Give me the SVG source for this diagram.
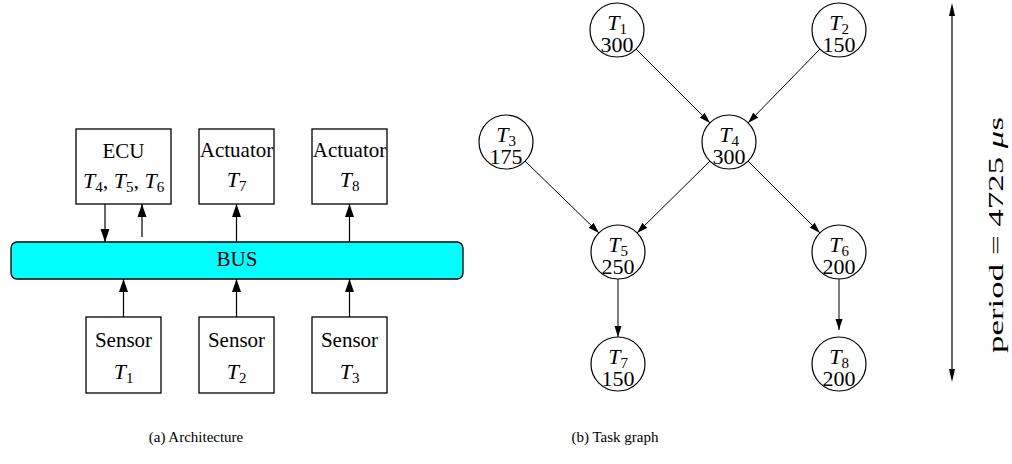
<svg xmlns="http://www.w3.org/2000/svg" width="1012" height="464" viewBox="0 0 1012 464">
<style>
.box{fill:#fff;stroke:#000;stroke-width:1.3}
.bus{fill:#00ffff;stroke:#000;stroke-width:1.3}
.node{fill:#fff;stroke:#000;stroke-width:1.2}
.t{font-family:"Liberation Serif","Times New Roman",serif;font-size:21px;fill:#000;text-anchor:middle}
.m{font-family:"Liberation Serif","Times New Roman",serif;font-size:22px;fill:#000;text-anchor:middle}
.i{font-style:italic}
.cap{font-family:"Liberation Serif","Times New Roman",serif;font-size:15px;fill:#000;text-anchor:middle}
.e{stroke:#000;stroke-width:1.2;fill:none}
.ea{stroke:#000;stroke-width:1.2;fill:none;marker-end:url(#ab)}
.ga{stroke:#000;stroke-width:1;fill:none;marker-end:url(#ag)}
</style>
<defs>
<marker id="ab" markerUnits="userSpaceOnUse" markerWidth="14" markerHeight="10" refX="13" refY="5" orient="auto">
<path d="M0,0.5 L13,5 L0,9.5 z" fill="#000"/>
</marker>
<marker id="ag" markerUnits="userSpaceOnUse" markerWidth="12" markerHeight="8" refX="11" refY="4" orient="auto">
<path d="M0,0.5 L11,4 L0,7.5 z" fill="#000"/>
</marker>
</defs>

<g id="connectors">
<line class="ea" x1="105" y1="204" x2="105" y2="242"/>
<line class="ea" x1="142" y1="237" x2="142" y2="204"/>
<line class="ea" x1="236.5" y1="242" x2="236.5" y2="204"/>
<line class="ea" x1="349.5" y1="242" x2="349.5" y2="204"/>
<line class="ea" x1="123.5" y1="317" x2="123.5" y2="279"/>
<line class="ea" x1="236.5" y1="317" x2="236.5" y2="279"/>
<line class="ea" x1="349.5" y1="317" x2="349.5" y2="279"/>
<line class="ga" x1="636" y1="49" x2="710" y2="123"/>
<line class="ga" x1="820" y1="49" x2="748" y2="123"/>
<line class="ga" x1="525" y1="161" x2="599" y2="233"/>
<line class="ga" x1="710" y1="161" x2="637" y2="233"/>
<line class="ga" x1="748" y1="161" x2="820" y2="233"/>
<line class="ga" x1="618" y1="279" x2="618" y2="337"/>
<line class="ga" x1="839" y1="279" x2="839" y2="330"/>
<line class="e" x1="952" y1="12" x2="952" y2="374"/>
</g>
<g id="period-arrow">
<path d="M952,3 L955,16 L949,16 z" fill="#000"/>
<path d="M952,382 L955,369 L949,369 z" fill="#000"/>
<text class="m" transform="translate(1003,235) rotate(-90)" textLength="236" lengthAdjust="spacingAndGlyphs" font-size="26">period = 4725 <tspan class="i">μ</tspan>s</text>
</g>

<g id="ecu">
<rect class="box" x="76" y="129" width="95" height="75"/>
<text class="t" x="123.5" y="158">ECU</text>
<text class="m" x="123.5" y="188"><tspan class="i">T</tspan><tspan font-size="15" dy="4">4</tspan><tspan dy="-4">, </tspan><tspan class="i">T</tspan><tspan font-size="15" dy="4">5</tspan><tspan dy="-4">, </tspan><tspan class="i">T</tspan><tspan font-size="15" dy="4">6</tspan></text>
</g>
<g id="actuator7">
<rect class="box" x="199" y="129" width="75" height="75"/>
<text class="t" x="236.5" y="157">Actuator</text>
<text class="m" x="236.5" y="187"><tspan class="i">T</tspan><tspan font-size="15" dy="4">7</tspan></text>
</g>
<g id="actuator8">
<rect class="box" x="312" y="129" width="75" height="75"/>
<text class="t" x="349.5" y="157">Actuator</text>
<text class="m" x="349.5" y="187"><tspan class="i">T</tspan><tspan font-size="15" dy="4">8</tspan></text>
</g>
<g id="bus">
<rect class="bus" x="11" y="242" width="452" height="37" rx="6"/>
<text class="t" x="237" y="266">BUS</text>
</g>
<g id="sensor1">
<rect class="box" x="86" y="317" width="75" height="76"/>
<text class="t" x="123.5" y="347">Sensor</text>
<text class="m" x="123.5" y="379"><tspan class="i">T</tspan><tspan font-size="15" dy="4">1</tspan></text>
</g>
<g id="sensor2">
<rect class="box" x="199" y="317" width="75" height="76"/>
<text class="t" x="236.5" y="347">Sensor</text>
<text class="m" x="236.5" y="379"><tspan class="i">T</tspan><tspan font-size="15" dy="4">2</tspan></text>
</g>
<g id="sensor3">
<rect class="box" x="312" y="317" width="75" height="76"/>
<text class="t" x="349.5" y="347">Sensor</text>
<text class="m" x="349.5" y="379"><tspan class="i">T</tspan><tspan font-size="15" dy="4">3</tspan></text>
</g>

<g id="T1"><circle class="node" cx="617" cy="30" r="27"/><text class="m" x="617" y="30"><tspan class="i">T</tspan><tspan font-size="15" dy="4">1</tspan></text><text class="m" x="617" y="52">300</text></g>
<g id="T2"><circle class="node" cx="839" cy="30" r="27"/><text class="m" x="839" y="30"><tspan class="i">T</tspan><tspan font-size="15" dy="4">2</tspan></text><text class="m" x="839" y="52">150</text></g>
<g id="T3"><circle class="node" cx="506" cy="142" r="27"/><text class="m" x="506" y="142"><tspan class="i">T</tspan><tspan font-size="15" dy="4">3</tspan></text><text class="m" x="506" y="164">175</text></g>
<g id="T4"><circle class="node" cx="729" cy="142" r="27"/><text class="m" x="729" y="142"><tspan class="i">T</tspan><tspan font-size="15" dy="4">4</tspan></text><text class="m" x="729" y="164">300</text></g>
<g id="T5"><circle class="node" cx="618" cy="252" r="27"/><text class="m" x="618" y="252"><tspan class="i">T</tspan><tspan font-size="15" dy="4">5</tspan></text><text class="m" x="618" y="274">250</text></g>
<g id="T6"><circle class="node" cx="839" cy="252" r="27"/><text class="m" x="839" y="252"><tspan class="i">T</tspan><tspan font-size="15" dy="4">6</tspan></text><text class="m" x="839" y="274">200</text></g>
<g id="T7"><circle class="node" cx="618" cy="364" r="27"/><text class="m" x="618" y="364"><tspan class="i">T</tspan><tspan font-size="15" dy="4">7</tspan></text><text class="m" x="618" y="386">150</text></g>
<g id="T8"><circle class="node" cx="839" cy="364" r="27"/><text class="m" x="839" y="364"><tspan class="i">T</tspan><tspan font-size="15" dy="4">8</tspan></text><text class="m" x="839" y="386">200</text></g>

<g id="captions">
<text class="cap" x="196" y="442">(a) Architecture</text>
<text class="cap" x="615" y="442">(b) Task graph</text>
</g>
</svg>
